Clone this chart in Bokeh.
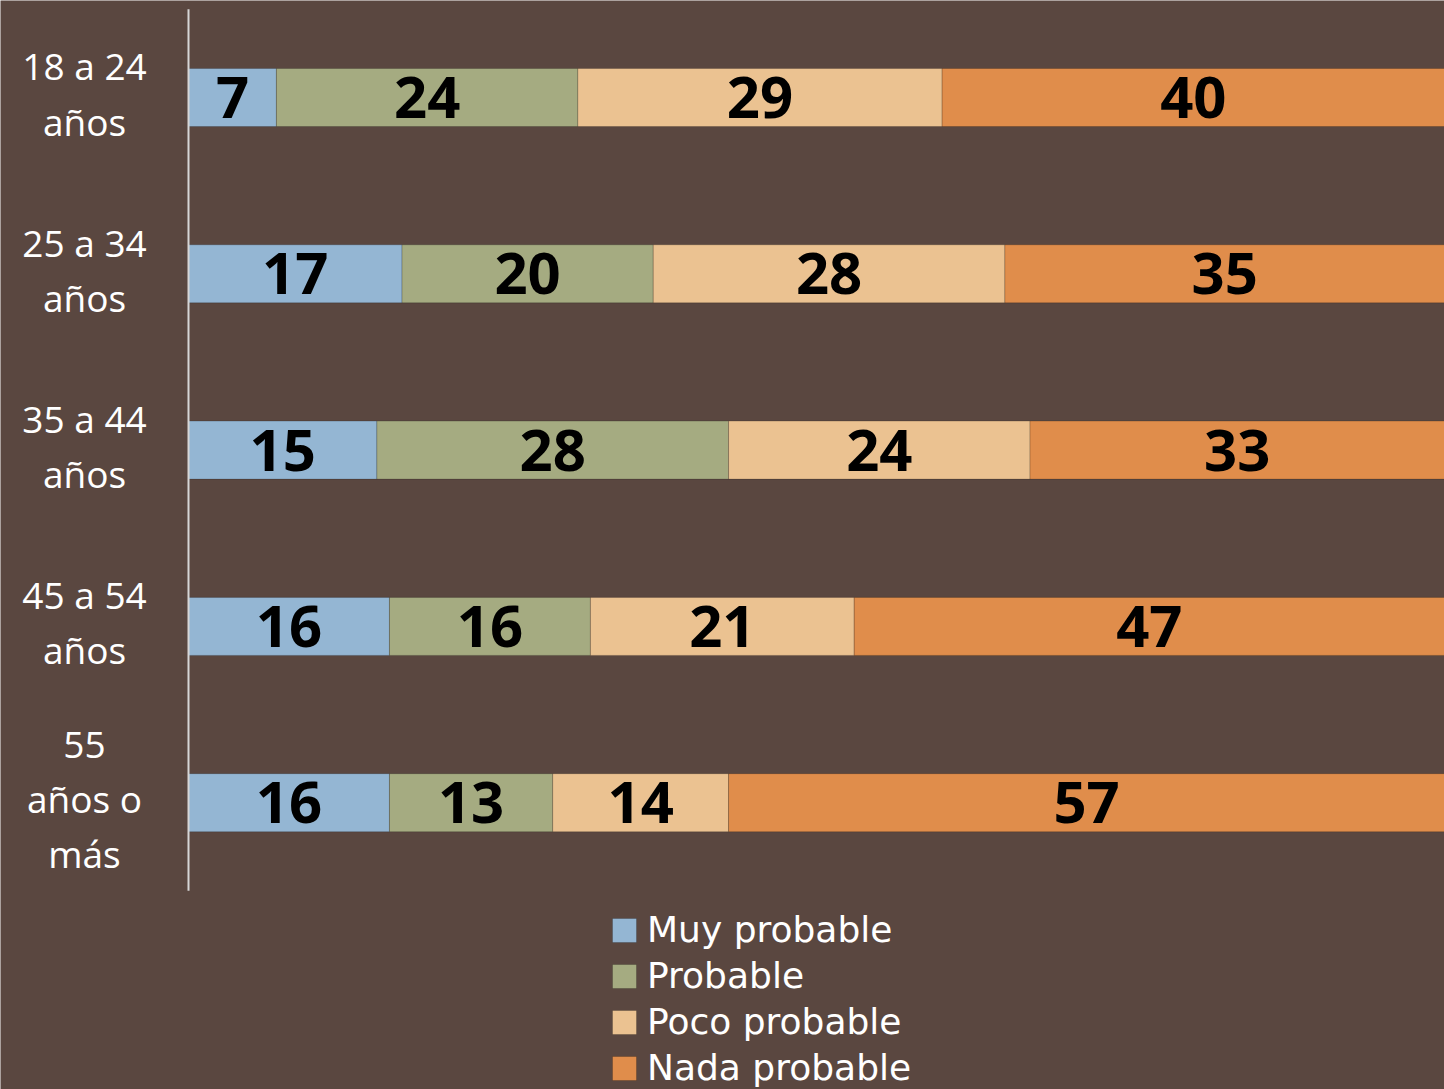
from bokeh.plotting import figure
from bokeh.models import ColumnDataSource, Range1d, Legend, LegendItem
from bokeh.core.properties import value
from bokeh.embed import file_html
from bokeh.resources import INLINE

# ---- data ----
categories = ["18 a 24\naños", "25 a 34\naños", "35 a 44\naños", "45 a 54\naños", "55\naños o\nmás"]
series_names = ["Muy probable", "Probable", "Poco probable", "Nada probable"]
muy_probable = [7, 17, 15, 16, 16]
probable = [24, 20, 28, 16, 13]
poco_probable = [29, 28, 24, 21, 14]
nada_probable = [40, 35, 33, 47, 57]
colors = ["#94b6d3", "#a5ab81", "#ebc291", "#e08d4b"]

BG = "#5a4740"
FONT = "Open Sans"
LEGEND_FONT = "DejaVu Sans"

W, H = 1444, 1089
axis_px = 188          # position of the value axis origin inside the figure
px_per_unit = 12.56    # horizontal scale
row0_px = 97           # centre of first row from top
row_pitch = 176.3      # vertical pitch of rows
bar_px = 58

p = figure(width=W, height=H, output_backend="svg", toolbar_location=None,
           x_axis_type=None, y_axis_type=None, min_border=0,
           background_fill_color=BG, border_fill_color=BG, outline_line_color=None)
p.x_range = Range1d(-axis_px / px_per_unit, (W - axis_px) / px_per_unit)
p.y_range = Range1d((H - row0_px) / row_pitch, -row0_px / row_pitch)
p.xgrid.visible = False
p.ygrid.visible = False

ys = list(range(len(categories)))
all_series = [muy_probable, probable, poco_probable, nada_probable]
left = [0] * len(categories)
items = []
label_x, label_y, label_t = [], [], []
for name, vals, col in zip(series_names, all_series, colors):
    right = [l + v for l, v in zip(left, vals)]
    src = ColumnDataSource(dict(y=ys, left=left, right=right))
    r = p.hbar(y="y", left="left", right="right", height=bar_px / row_pitch, source=src,
               fill_color=col, line_color="black", line_alpha=0.18, line_width=1)
    items.append(LegendItem(label=name, renderers=[r]))
    for i, v in enumerate(vals):
        label_x.append((left[i] + right[i]) / 2)
        label_y.append(ys[i])
        label_t.append(str(v))
    left = right

# data labels
p.text(x=label_x, y=label_y, text=label_t, text_align="center", text_baseline="middle",
       text_font=value(FONT), text_font_style="bold", text_font_size="58px", text_color="black")

# category axis line
n = len(categories)
p.segment(x0=[0], x1=[0], y0=[-0.5], y1=[n - 0.5], line_color="#d6d6d6", line_width=2)

# category labels
p.text(x=[0] * n, y=ys, text=categories, x_offset=-104, y_offset=-4, text_align="center",
       text_baseline="middle", text_font=value(FONT), text_font_size="37px",
       text_color="white", text_line_height=1.08)

legend = Legend(items=items, location=(609, 1), orientation="vertical",
                glyph_width=30, glyph_height=30, label_standoff=8, spacing=5,
                padding=0, margin=0, border_line_alpha=0, background_fill_alpha=0,
                label_text_font=LEGEND_FONT, label_text_font_size="36px", label_text_color="white")
p.add_layout(legend, "center")

open("out.html", "w").write(file_html(p, INLINE))
